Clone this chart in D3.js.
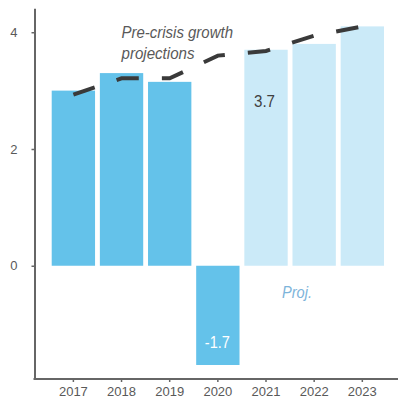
<!DOCTYPE html>
<html>
<head>
<meta charset="utf-8">
<script src="https://cdn.jsdelivr.net/npm/d3@7/dist/d3.min.js"></script>
<style>
  html, body { margin: 0; padding: 0; background: #fff; }
  svg { display: block; font-family: "Liberation Sans", Arial, sans-serif; }
</style>
</head>
<body>
<svg id="chart" width="398" height="401"></svg>
<script>
// Real GDP growth (percent): outturns and projections
const years = ["2017", "2018", "2019", "2020", "2021", "2022", "2023"];
const growth = [3.0, 3.3, 3.15, -1.7, 3.7, 3.8, 4.1];
const projected = [false, false, false, false, true, true, true];
// Pre-crisis growth projections (dashed line)
const preCrisis = [2.93, 3.21, 3.21, 3.6, 3.68, 3.94, 4.1];
const yTicks = [0, 2, 4];
const valueLabels = [
  { year: "2020", value: -1.7, text: "-1.7" },
  { year: "2021", value: 3.7, text: "3.7" }
];

const svg = d3.select("#chart");

const x = d3.scaleBand()
  .domain(years)
  .range([49.3, 386.4])
  .paddingInner(0.1)
  .paddingOuter(0.05);

const y = d3.scaleLinear()
  .domain([-1.94, 4.41])
  .range([379, 8.3]);

const axisColor = "#666";
const textColor = "#595959";

// bars
svg.append("g")
  .selectAll("rect")
  .data(years.map((yr, i) => ({ yr, v: growth[i], p: projected[i] })))
  .join("rect")
  .attr("x", d => x(d.yr))
  .attr("width", x.bandwidth())
  .attr("y", d => y(Math.max(0, d.v)))
  .attr("height", d => Math.abs(y(d.v) - y(0)))
  .attr("fill", d => d.p ? "#cbeaf8" : "#64c2ea");

// dashed pre-crisis projection line
const line = d3.line()
  .x((d, i) => x(years[i]) + x.bandwidth() / 2)
  .y(d => y(d));

svg.append("path")
  .datum(preCrisis)
  .attr("d", line)
  .attr("fill", "none")
  .attr("stroke", "#3a3a3a")
  .attr("stroke-width", 4)
  .attr("stroke-dasharray", "22.5,23.1");

// y axis
const yAxis = svg.append("g")
  .attr("transform", "translate(34.5,0)")
  .call(d3.axisLeft(y).tickValues(yTicks).tickSize(3).tickSizeOuter(0).tickPadding(14).tickFormat(d3.format("d")));
yAxis.select(".domain").attr("stroke", axisColor).attr("stroke-width", 2);
yAxis.selectAll(".tick line").attr("stroke", axisColor).attr("stroke-width", 1.5);
yAxis.selectAll(".tick text").attr("fill", textColor).style("font-size", "13px");

// x axis
const xAxis = svg.append("g")
  .attr("transform", "translate(0,379)")
  .call(d3.axisBottom(x).tickSize(3).tickSizeOuter(0).tickPadding(4.5));
xAxis.select(".domain").remove();
xAxis.append("line")
  .attr("x1", 33.5).attr("x2", 398)
  .attr("stroke", axisColor).attr("stroke-width", 2);
xAxis.selectAll(".tick line").attr("stroke", axisColor).attr("stroke-width", 1.5);
xAxis.selectAll(".tick text").attr("fill", textColor).style("font-size", "13px");

// narrow text helper: tall glyphs squeezed to a set width
function squeezed(sel, width) {
  return sel.attr("textLength", width).attr("lengthAdjust", "spacingAndGlyphs");
}

// value labels
squeezed(svg.append("text")
  .attr("x", x("2021") + x.bandwidth() / 2 - 1.5)
  .attr("y", y(3.7) + 57)
  .attr("text-anchor", "middle")
  .attr("fill", "#404040")
  .style("font-size", "16.5px")
  .text(valueLabels[1].text), 21);

squeezed(svg.append("text")
  .attr("x", x("2020") + x.bandwidth() / 2 - 0.5)
  .attr("y", y(-1.7) - 16.5)
  .attr("text-anchor", "middle")
  .attr("fill", "#ffffff")
  .style("font-size", "16.5px")
  .text(valueLabels[0].text), 25);

// annotations
const noteStyle = s => s.attr("fill", textColor)
  .style("font-size", "17px")
  .style("font-style", "italic");
squeezed(noteStyle(svg.append("text"))
  .attr("x", 121.5).attr("y", 37.5).text("Pre-crisis growth"), 111.5);
squeezed(noteStyle(svg.append("text"))
  .attr("x", 121.5).attr("y", 59).text("projections"), 73);

squeezed(svg.append("text")
  .attr("x", 282)
  .attr("y", 297.5)
  .attr("fill", "#7db4da")
  .style("font-size", "16.5px")
  .style("font-style", "italic")
  .text("Proj."), 30);
</script>
</body>
</html>
